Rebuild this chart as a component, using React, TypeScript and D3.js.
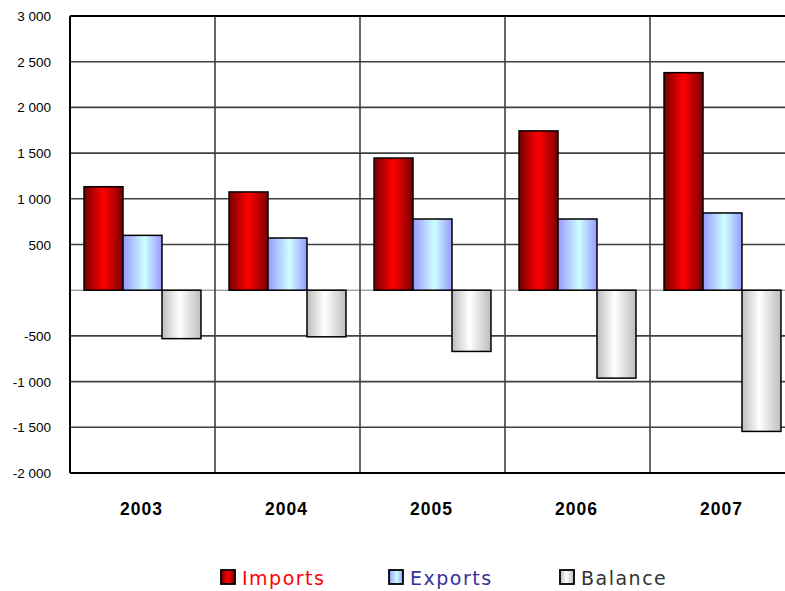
import React from "react";
import * as d3 from "d3";

const years = ["2003", "2004", "2005", "2006", "2007"];
const imports = [1132, 1075, 1446, 1743, 2380];
const exportsV = [600, 571, 779, 779, 845];
const balance = [-530, -510, -670, -962, -1545];
const yTicks = [3000, 2500, 2000, 1500, 1000, 500, 0, -500, -1000, -1500, -2000];
const seriesNames = ["Imports", "Exports", "Balance"];

const W = 785, H = 591;
const L = 70, T = 16, B = 473;
const catW = 145;

export default function App() {
  const x = d3.scaleBand<string>().domain(years).range([L, L + catW * years.length]).paddingInner(0).paddingOuter(0);
  const inner = d3.scaleBand<string>().domain(seriesNames).range([0, catW]).paddingOuter(0.36).paddingInner(0);
  const y = d3.scaleLinear().domain([-2000, 3000]).range([B, T]);
  const fmt = (v: number) => (v === 0 ? "" : d3.format(",")(v).replace(/,/g, " ").replace("\u2212", "-"));
  const series = [
    { name: "Imports", vals: imports, grad: "gImp", text: "#ff0000" },
    { name: "Exports", vals: exportsV, grad: "gExp", text: "#333399" },
    { name: "Balance", vals: balance, grad: "gBal", text: "#333333" },
  ];
  const legendX = [221, 389, 560];
  const right = L + catW * years.length;
  return (
    <svg width={W} height={H} style={{ position: "absolute", left: 0, top: 0, background: "#fff" }} fontFamily="'Liberation Sans', Arial, sans-serif">
      <defs>
        <linearGradient id="gImp" x1="0" x2="1" y1="0" y2="0">
          <stop offset="0" stopColor="#7a0000" />
          <stop offset="0.5" stopColor="#ff0000" />
          <stop offset="1" stopColor="#7a0000" />
        </linearGradient>
        <linearGradient id="gExp" x1="0" x2="1" y1="0" y2="0">
          <stop offset="0" stopColor="#9999ff" />
          <stop offset="0.55" stopColor="#ccffff" />
          <stop offset="1" stopColor="#9999ff" />
        </linearGradient>
        <linearGradient id="gBal" x1="0" x2="1" y1="0" y2="0">
          <stop offset="0" stopColor="#bdbdbd" />
          <stop offset="0.45" stopColor="#ffffff" />
          <stop offset="1" stopColor="#bdbdbd" />
        </linearGradient>
      </defs>
      {yTicks.filter((t) => t !== 3000 && t !== -2000 && t !== 0).map((t) => (
        <line key={t} x1={L} x2={right} y1={y(t)} y2={y(t)} stroke="#404040" strokeWidth={1.6} />
      ))}
      <line x1={L} x2={right} y1={y(0)} y2={y(0)} stroke="#777" strokeWidth={1} />
      {years.slice(1).map((yr) => (
        <line key={yr} x1={x(yr)!} x2={x(yr)!} y1={T} y2={B} stroke="#404040" strokeWidth={1.6} />
      ))}
      {series.map((s) =>
        years.map((yr, i) => {
          const v = s.vals[i];
          const bx = x(yr)! + inner(s.name)!;
          const y0 = y(Math.max(0, v));
          const y1 = y(Math.min(0, v));
          return (
            <rect key={s.name + yr} x={bx} y={y0} width={inner.bandwidth()} height={y1 - y0}
              fill={`url(#${s.grad})`} stroke="#000" strokeWidth={1.5} />
          );
        })
      )}
      <line x1={L} x2={right} y1={T} y2={T} stroke="#000" strokeWidth={2} />
      <line x1={L} x2={right} y1={B} y2={B} stroke="#000" strokeWidth={2} />
      <line x1={L} x2={L} y1={T} y2={B} stroke="#000" strokeWidth={2} />
      {yTicks.map((t) => (
        <text key={t} x={51} y={y(t) + 5} textAnchor="end" fontSize={13.5} fill="#000">{fmt(t)}</text>
      ))}
      {years.map((yr) => (
        <text key={yr} x={x(yr)! + catW / 2 - 1} y={515} textAnchor="middle" fontSize={17.5} fontWeight="bold" letterSpacing={1} fill="#000">{yr}</text>
      ))}
      {series.map((s, i) => (
        <g key={s.name}>
          <rect x={legendX[i]} y={570} width={14} height={14} fill={`url(#${s.grad})`} stroke="#000" strokeWidth={1.8} />
          <text x={legendX[i] + 21} y={585} fontSize={19} fontFamily="'DejaVu Sans', sans-serif" letterSpacing={1.5} fill={s.text}>{s.name}</text>
        </g>
      ))}
    </svg>
  );
}
